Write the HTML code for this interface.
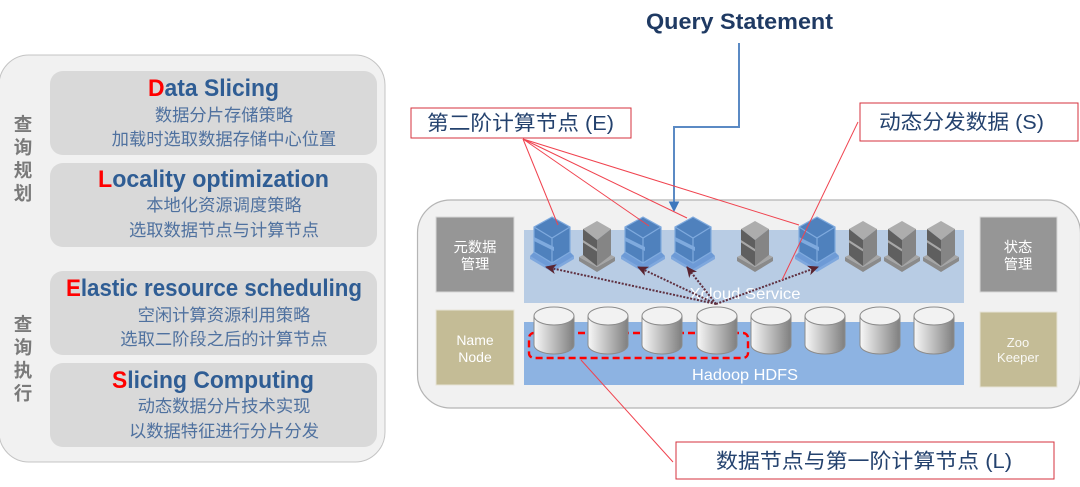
<!DOCTYPE html>
<html><head><meta charset="utf-8">
<style>
html,body{margin:0;padding:0;background:#fff;width:1080px;height:487px;overflow:hidden}
svg{display:block;filter:blur(0.35px)}
text{font-family:"Liberation Sans","Noto Sans CJK SC",sans-serif;text-anchor:middle}
.t{font-size:24px;font-weight:bold;fill:#2f5d94;text-anchor:start}
.s{font-size:17.3px;fill:#4f719f}
.v{font-size:18.5px;font-weight:bold;fill:#7a7a7a}
.w{fill:#fff}
.l{font-size:20.5px;fill:#24426e}
</style></head><body>
<svg width="1080" height="487" viewBox="0 0 1080 487" xmlns="http://www.w3.org/2000/svg">
<defs>
<linearGradient id="cy" x1="0" x2="1" y1="0" y2="0"><stop offset="0" stop-color="#f8f8f8"/><stop offset="1" stop-color="#7f7f7f"/></linearGradient>
<marker id="ah" markerWidth="12" markerHeight="10" refX="10" refY="5" orient="auto" markerUnits="userSpaceOnUse"><path d="M0 0L11 5L0 10L3 5Z" fill="#5a2430"/></marker>
<g id="gs">
<path d="M-18 257L0 267L18 257L18 261L0 272L-18 261Z" fill="#8a8a8a"/>
<path d="M-18 257L-14 255L0 263L14 255L18 257L0 267Z" fill="#a6a6a6"/>
<path d="M0 221L14 229L0 240L-14 229Z" fill="#adadad"/>
<path d="M-14 229L0 240L0 266L-14 255Z" fill="#5f5f5f"/>
<path d="M14 229L0 240L0 266L14 255Z" fill="#858585"/>
<path d="M-14 240L0 249L0 251.5L-14 242.5Z" fill="#a8a8a8"/>
</g>
<g id="bs">
<path d="M-22 256L0 268L22 256L22 259L0 272L-22 259Z" fill="#7fa8de"/>
<path d="M-22 256L-18 252L0 263L18 252L22 256L0 269Z" fill="#6d9ad6"/>
<path d="M0 217L18 227L18 252L0 263L-18 252L-18 227Z" fill="#4f81bd" stroke="#7faade" stroke-width="1.2"/>
<path d="M-18 227L0 238L18 227M0 238V263" fill="none" stroke="#7faade" stroke-width="1.2"/>
<path d="M-18 237L2 247V251L-18 241Z" fill="#7faade"/>
</g>
<g id="cyl">
<path d="M-20 316V345A20 9 0 0 0 20 345V316Z" fill="url(#cy)" stroke="#8c8c8c" stroke-width="1"/>
<ellipse cx="0" cy="316" rx="20" ry="9" fill="#f2f2f2" stroke="#8c8c8c" stroke-width="1"/>
</g>
</defs>

<!-- left panel -->
<rect x="-1" y="55" width="386" height="407" rx="30" fill="#f1f1f1" stroke="#c4c4c4" stroke-width="1"/>
<rect x="50" y="71" width="327" height="84" rx="13" fill="#d9d9d9"/>
<rect x="50" y="163" width="327" height="84" rx="13" fill="#d9d9d9"/>
<rect x="50" y="271" width="327" height="84" rx="13" fill="#d9d9d9"/>
<rect x="50" y="363" width="327" height="84" rx="13" fill="#d9d9d9"/>

<text class="t" x="148" y="96" textLength="131" lengthAdjust="spacingAndGlyphs"><tspan fill="#ff0000">D</tspan>ata Slicing</text>
<text class="s" x="224" y="121">数据分片存储策略</text>
<text class="s" x="224" y="145">加载时选取数据存储中心位置</text>
<text class="t" x="98" y="187" textLength="231" lengthAdjust="spacingAndGlyphs"><tspan fill="#ff0000">L</tspan>ocality optimization</text>
<text class="s" x="224" y="211">本地化资源调度策略</text>
<text class="s" x="224" y="236">选取数据节点与计算节点</text>
<text class="t" x="66" y="296" textLength="296" lengthAdjust="spacingAndGlyphs"><tspan fill="#ff0000">E</tspan>lastic resource scheduling</text>
<text class="s" x="224" y="321">空闲计算资源利用策略</text>
<text class="s" x="224" y="345">选取二阶段之后的计算节点</text>
<text class="t" x="112" y="388" textLength="202" lengthAdjust="spacingAndGlyphs"><tspan fill="#ff0000">S</tspan>licing Computing</text>
<text class="s" x="224" y="412">动态数据分片技术实现</text>
<text class="s" x="224" y="437">以数据特征进行分片分发</text>

<text class="v" x="23" y="131">查</text><text class="v" x="23" y="154">询</text><text class="v" x="23" y="177">规</text><text class="v" x="23" y="200">划</text>
<text class="v" x="23" y="331">查</text><text class="v" x="23" y="354">询</text><text class="v" x="23" y="377">执</text><text class="v" x="23" y="400">行</text>

<!-- right panel -->
<rect x="417.5" y="200" width="663" height="208" rx="33" fill="#f1f1f1" stroke="#b5b5b5" stroke-width="1.2"/>
<rect x="436" y="217" width="78" height="75" fill="#969696" stroke="#d8d8d8"/>
<rect x="980" y="217" width="77" height="75" fill="#969696" stroke="#d8d8d8"/>
<rect x="436" y="310" width="78" height="75" fill="#c4bc96" stroke="#e6e3d6"/>
<rect x="980" y="312" width="77" height="75" fill="#c4bc96" stroke="#e6e3d6"/>
<rect x="524" y="230" width="440" height="73" fill="#b8cce4"/>
<rect x="524" y="322" width="440" height="63" fill="#8db3e2"/>

<text class="w" x="475" y="252" font-size="14.3">元数据</text>
<text class="w" x="475" y="269" font-size="14.3">管理</text>
<text class="w" x="1018" y="252" font-size="14.3">状态</text>
<text class="w" x="1018" y="269" font-size="14.3">管理</text>
<text class="w" x="475" y="345" font-size="14">Name</text>
<text class="w" x="475" y="362" font-size="14">Node</text>
<text class="w" x="1018" y="347" font-size="13" fill-opacity=".9">Zoo</text>
<text class="w" x="1018" y="362" font-size="13" fill-opacity=".9">Keeper</text>
<text class="w" x="745" y="299" font-size="16" textLength="111" lengthAdjust="spacingAndGlyphs">Xcloud Service</text>
<text class="w" x="745" y="380" font-size="16" textLength="106" lengthAdjust="spacingAndGlyphs">Hadoop HDFS</text>

<use href="#bs" x="552"/><use href="#gs" x="597"/><use href="#bs" x="643"/><use href="#bs" x="693"/>
<use href="#gs" x="755"/><use href="#bs" x="817"/><use href="#gs" x="863"/><use href="#gs" x="902"/><use href="#gs" x="941"/>

<rect x="529" y="333" width="219" height="25" rx="5" fill="none" stroke="#ff0000" stroke-width="2.4" stroke-dasharray="7 4"/>
<use href="#cyl" x="554"/><use href="#cyl" x="608"/><use href="#cyl" x="662"/><use href="#cyl" x="717"/>
<use href="#cyl" x="771"/><use href="#cyl" x="825"/><use href="#cyl" x="880"/><use href="#cyl" x="934"/>

<!-- dotted arrows -->
<g fill="none" stroke="#5f3040" stroke-width="2" stroke-dasharray="2 1.5">
<path d="M716 304L546 267" marker-end="url(#ah)"/>
<path d="M716 304L638 267" marker-end="url(#ah)"/>
<path d="M716 304L687 267" marker-end="url(#ah)"/>
<path d="M716 304L818 267" marker-end="url(#ah)"/>
</g>

<!-- query connector -->
<path d="M739 43V127H674V204" fill="none" stroke="#5b8ac4" stroke-width="2"/>
<path d="M669.5 202H678.5L674 211Z" fill="#3f78bd" stroke="#3f78bd"/>

<!-- red leader lines -->
<g fill="none" stroke="#f0434f" stroke-width="1">
<path d="M523 139L558 225"/>
<path d="M523 139L649 226"/>
<path d="M523 139L687 218"/>
<path d="M523 139L799 225"/>
<path d="M858 122L782 280"/>
<path d="M581 360L673 462"/>
</g>

<!-- labels -->
<rect x="411" y="108" width="220" height="30" fill="#fff" stroke="#d6323c" stroke-width="1"/>
<rect x="860" y="103" width="218" height="38" fill="#fff" stroke="#d6323c" stroke-width="1"/>
<rect x="676" y="442" width="378" height="37" fill="#fff" stroke="#d6323c" stroke-width="1"/>
<text class="l" x="520.5" y="130" textLength="187" lengthAdjust="spacingAndGlyphs">第二阶计算节点 (E)</text>
<text class="l" x="961.5" y="129" textLength="165" lengthAdjust="spacingAndGlyphs">动态分发数据 (S)</text>
<text class="l" x="864" y="468" textLength="296" lengthAdjust="spacingAndGlyphs">数据节点与第一阶计算节点 (L)</text>

<text x="739.5" y="29" font-size="22.5" font-weight="bold" fill="#1f3a63" textLength="187" lengthAdjust="spacingAndGlyphs">Query Statement</text>
</svg>
</body></html>
